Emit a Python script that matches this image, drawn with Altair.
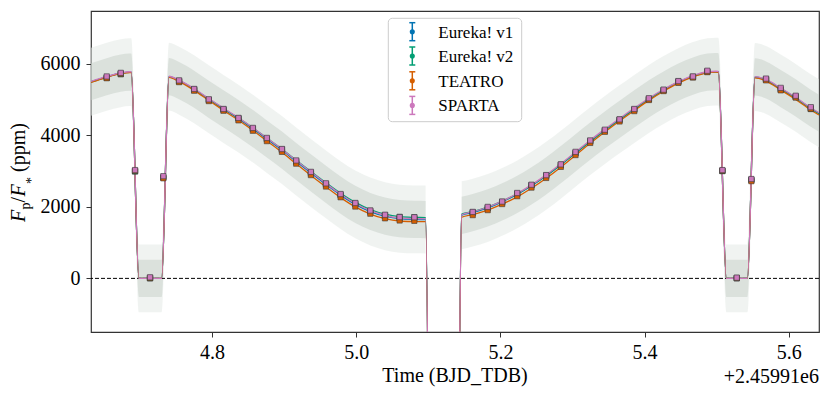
import altair as alt
import pandas as pd

FONT = "Liberation Serif, Times New Roman, Times, serif"

series_names = ["Eureka! v1", "Eureka! v2", "TEATRO", "SPARTA"]
series_colors = ["#0173B2", "#029E73", "#D55E00", "#CC78BC"]

x_domain = [4.632, 5.642]
y_domain = [-1500, 7480]
x_ticks = [4.8, 5.0, 5.2, 5.4, 5.6]
y_ticks = [0, 2000, 4000, 6000]

# ---- model curves (time, flux in ppm) ----
model_t = [4.632, 4.6538, 4.6733, 4.6860, 4.6878, 4.6985, 4.7300, 4.7402, 4.7542, 4.7751,
           4.7955, 4.8158, 4.8366, 4.8566, 4.8760, 4.8969, 4.9167, 4.9371, 4.9580, 4.9783,
           4.9987, 5.0195, 5.0399, 5.0602, 5.0806, 5.0962, 5.1072, 5.1353, 5.1463, 5.1616,
           5.1824, 5.2024, 5.2233, 5.2431, 5.2635, 5.2838, 5.3042, 5.3246, 5.3449, 5.3653,
           5.3857, 5.4060, 5.4264, 5.4469, 5.4671, 5.4871, 5.4990, 5.5024, 5.5135, 5.5427,
           5.5532, 5.5685, 5.5889, 5.6097, 5.6306, 5.6420]
model_eureka_v1 = [5500, 5640, 5740, 5770, 5770, 0, 0, 5645, 5530, 5290,
                   5010, 4740, 4470, 4190, 3900, 3590, 3270, 2950, 2630, 2330,
                   2070, 1870, 1740, 1670, 1650, 1645, -19000, -19000, 1765, 1840,
                   1970, 2140, 2350, 2590, 2870, 3180, 3510, 3840, 4150, 4450,
                   4740, 5020, 5270, 5490, 5660, 5770, 5785, 5780, 0, 0,
                   5635, 5550, 5310, 5050, 4760, 4620]
model_eureka_v2 = [5490, 5630, 5735, 5765, 5765, 0, 0, 5640, 5525, 5290,
                   5015, 4750, 4485, 4210, 3925, 3620, 3305, 2990, 2675, 2380,
                   2125, 1925, 1795, 1725, 1705, 1700, -19000, -19000, 1800, 1870,
                   1995, 2160, 2365, 2600, 2875, 3180, 3505, 3830, 4140, 4440,
                   4730, 5010, 5260, 5480, 5650, 5760, 5775, 5770, 0, 0,
                   5625, 5540, 5295, 5035, 4745, 4605]
model_teatro = [5480, 5625, 5725, 5760, 5760, 0, 0, 5625, 5505, 5260,
                4975, 4700, 4425, 4140, 3845, 3530, 3205, 2880, 2560, 2260,
                2000, 1800, 1670, 1605, 1590, 1585, -19000, -19000, 1710, 1785,
                1910, 2075, 2280, 2520, 2800, 3110, 3445, 3780, 4095, 4400,
                4695, 4980, 5235, 5460, 5635, 5750, 5770, 5765, 0, 0,
                5610, 5520, 5270, 5005, 4710, 4570]
model_sparta = [5510, 5650, 5750, 5780, 5780, 0, 0, 5655, 5545, 5310,
                5030, 4765, 4495, 4215, 3925, 3615, 3295, 2975, 2655, 2355,
                2095, 1895, 1765, 1690, 1670, 1665, -19000, -19000, 1780, 1860,
                1990, 2160, 2375, 2615, 2895, 3205, 3535, 3865, 4175, 4475,
                4765, 5040, 5290, 5505, 5675, 5780, 5795, 5790, 0, 0,
                5645, 5565, 5325, 5065, 4775, 4635]

# ---- binned data points ----
bin_t = [4.6538, 4.6733, 4.6931, 4.7139, 4.7324, 4.7542, 4.7751, 4.7955, 4.8158, 4.8366,
         4.8566, 4.8760, 4.8969, 4.9167, 4.9371, 4.9580, 4.9783, 4.9987, 5.0195, 5.0399,
         5.0602, 5.0806, 5.1616, 5.1824, 5.2024, 5.2233, 5.2431, 5.2635, 5.2838, 5.3042,
         5.3246, 5.3449, 5.3653, 5.3857, 5.4060, 5.4264, 5.4469, 5.4671, 5.4871, 5.5080,
         5.5279, 5.5482, 5.5685, 5.5889, 5.6097, 5.6306]
bin_eureka_v1 = [5620, 5730, 3000, 10, 2830, 5520, 5280, 4990, 4720, 4470,
                 4180, 3890, 3590, 3250, 2930, 2620, 2320, 2070, 1860, 1740,
                 1680, 1670, 1830, 1960, 2120, 2360, 2600, 2860, 3180, 3510,
                 3840, 4140, 4440, 4720, 5020, 5270, 5510, 5640, 5790, 3010,
                 10, 2760, 5570, 5290, 5090, 4760]
bin_eureka_v2 = [5610, 5710, 2990, 0, 2820, 5510, 5290, 4990, 4730, 4480,
                 4190, 3910, 3610, 3280, 2960, 2640, 2340, 2100, 1890, 1770,
                 1720, 1710, 1850, 1980, 2140, 2370, 2610, 2880, 3170, 3500,
                 3830, 4130, 4430, 4720, 5010, 5260, 5490, 5630, 5780, 3000,
                 0, 2750, 5560, 5280, 5070, 4740]
bin_teatro = [5600, 5720, 3010, 10, 2800, 5490, 5250, 4960, 4690, 4420,
              4130, 3840, 3540, 3210, 2890, 2570, 2270, 2010, 1810, 1680,
              1620, 1610, 1770, 1910, 2080, 2300, 2540, 2810, 3120, 3450,
              3790, 4100, 4390, 4680, 4990, 5240, 5470, 5620, 5770, 3010,
              10, 2720, 5540, 5260, 5060, 4740]
bin_sparta = [5650, 5750, 3030, 30, 2860, 5540, 5300, 5010, 4740, 4490,
              4210, 3930, 3620, 3300, 2980, 2660, 2360, 2110, 1900, 1780,
              1715, 1710, 1860, 2000, 2150, 2390, 2620, 2890, 3190, 3540,
              3860, 4160, 4450, 4740, 5040, 5280, 5520, 5650, 5810, 3030,
              20, 2780, 5590, 5330, 5110, 4790]

# ---- envelope of the unbinned scatter (two segments, gap at transit) ----
band_a_t = [4.632, 4.6538, 4.6733, 4.6860, 4.6878, 4.6985, 4.7300, 4.7402, 4.7542, 4.7751,
            4.7955, 4.8158, 4.8366, 4.8566, 4.8760, 4.8969, 4.9167, 4.9371, 4.9580, 4.9783,
            4.9987, 5.0195, 5.0399, 5.0602, 5.0806, 5.0962]
band_a_in_hi = [6020, 6160, 6260, 6290, 6290, 520, 520, 6165, 6050, 5810,
                5530, 5260, 4990, 4710, 4420, 4110, 3790, 3470, 3150, 2850,
                2590, 2390, 2260, 2190, 2170, 2165]
band_a_in_lo = [4980, 5120, 5220, 5250, 5250, -520, -520, 5125, 5010, 4770,
                4490, 4220, 3950, 3670, 3380, 3070, 2750, 2430, 2110, 1810,
                1550, 1350, 1220, 1150, 1130, 1125]
band_a_out_hi = [6450, 6590, 6690, 6720, 6720, 950, 950, 6595, 6480, 6240,
                 5960, 5690, 5420, 5140, 4850, 4540, 4220, 3900, 3580, 3280,
                 3020, 2820, 2690, 2620, 2600, 2595]
band_a_out_lo = [4550, 4690, 4790, 4820, 4820, -950, -950, 4695, 4580, 4340,
                 4060, 3790, 3520, 3240, 2950, 2640, 2320, 2000, 1680, 1380,
                 1120, 920, 790, 720, 700, 695]
band_b_t = [5.1463, 5.1616, 5.1824, 5.2024, 5.2233, 5.2431, 5.2635, 5.2838, 5.3042, 5.3246,
            5.3449, 5.3653, 5.3857, 5.4060, 5.4264, 5.4469, 5.4671, 5.4871, 5.4990, 5.5024,
            5.5135, 5.5427, 5.5532, 5.5685, 5.5889, 5.6097, 5.6306, 5.6420]
band_b_in_hi = [2285, 2360, 2490, 2660, 2870, 3110, 3390, 3700, 4030, 4360,
                4670, 4970, 5260, 5540, 5790, 6010, 6180, 6290, 6305, 6300,
                520, 520, 6155, 6070, 5830, 5570, 5280, 5140]
band_b_in_lo = [1245, 1320, 1450, 1620, 1830, 2070, 2350, 2660, 2990, 3320,
                3630, 3930, 4220, 4500, 4750, 4970, 5140, 5250, 5265, 5260,
                -520, -520, 5115, 5030, 4790, 4530, 4240, 4100]
band_b_out_hi = [2715, 2790, 2920, 3090, 3300, 3540, 3820, 4130, 4460, 4790,
                 5100, 5400, 5690, 5970, 6220, 6440, 6610, 6720, 6735, 6730,
                 950, 950, 6585, 6500, 6260, 6000, 5710, 5570]
band_b_out_lo = [815, 890, 1020, 1190, 1400, 1640, 1920, 2230, 2560, 2890,
                 3200, 3500, 3790, 4070, 4320, 4540, 4710, 4820, 4835, 4830,
                 -950, -950, 4685, 4600, 4360, 4100, 3810, 3670]

# ---------------- data tables ----------------
model_vals = [model_eureka_v1, model_eureka_v2, model_teatro, model_sparta]
bin_vals = [bin_eureka_v1, bin_eureka_v2, bin_teatro, bin_sparta]

band_rows = []
for seg, ts, ilo, ihi, olo, ohi in [
    ("a", band_a_t, band_a_in_lo, band_a_in_hi, band_a_out_lo, band_a_out_hi),
    ("b", band_b_t, band_b_in_lo, band_b_in_hi, band_b_out_lo, band_b_out_hi),
]:
    for i, t in enumerate(ts):
        band_rows.append({"seg": seg, "t": t, "ilo": ilo[i], "ihi": ihi[i],
                          "olo": olo[i], "ohi": ohi[i]})
band_df = pd.DataFrame(band_rows)

xscale = alt.Scale(domain=x_domain, nice=False, zero=False)
yscale = alt.Scale(domain=y_domain, nice=False, zero=False)
xaxis = alt.Axis(values=x_ticks, format=".1f", title=None, grid=False, domain=False,
                 tickSize=5, tickColor="#333333", tickWidth=1, labelPadding=5,
                 labelFont=FONT, labelFontSize=20, labelColor="black",
                 labelOverlap=False, labelFlush=False)
yaxis = alt.Axis(values=y_ticks, format="d", title=None, grid=False, domain=False,
                 tickSize=5, tickColor="#333333", tickWidth=1, labelPadding=6,
                 labelFont=FONT, labelFontSize=20, labelColor="black",
                 labelOverlap=False, labelFlush=False)


def X(field="t"):
    return alt.X(f"{field}:Q", scale=xscale, axis=xaxis)


def Y(field):
    return alt.Y(f"{field}:Q", scale=yscale, axis=yaxis)


layers = []

# scatter envelope
layers.append(
    alt.Chart(band_df).mark_area(interpolate="monotone", color="#e3e9e5", opacity=0.55, clip=True)
    .encode(x=X(), y=Y("olo"), y2="ohi", detail="seg:N")
)
layers.append(
    alt.Chart(band_df).mark_area(interpolate="monotone", color="#c6cfc8", opacity=0.5, clip=True)
    .encode(x=X(), y=Y("ilo"), y2="ihi", detail="seg:N")
)

# zero line
zero_df = pd.DataFrame({"z": [0]})
layers.append(
    alt.Chart(zero_df).mark_rule(color="black", strokeDash=[4, 2], strokeWidth=1)
    .encode(y=Y("z"))
)

# model lines
for name, color, vals in zip(series_names, series_colors, model_vals):
    df = pd.DataFrame({"t": model_t, "f": vals})
    layers.append(
        alt.Chart(df).mark_line(interpolate="monotone", color=color, strokeWidth=1.3, clip=True)
        .encode(x=X(), y=Y("f"))
    )

# binned points
for name, color, vals in zip(series_names, series_colors, bin_vals):
    df = pd.DataFrame({"t": bin_t, "f": vals})
    layers.append(
        alt.Chart(df).mark_point(shape="square", filled=True, size=28, fill=color,
                                 stroke="#3a3a3a", strokeWidth=0.6, opacity=1, clip=True)
        .encode(x=X(), y=Y("f"))
    )

one = pd.DataFrame({"a": [0]})

# legend box
layers.append(
    alt.Chart(one).mark_rect(fill="white", fillOpacity=0.85, stroke="#cccccc", strokeWidth=1,
                             cornerRadius=4)
    .encode(x=alt.value(297.3), x2=alt.value(430.7), y=alt.value(7.3), y2=alt.value(110.7))
)
legend_rows_y = [20.7, 45.0, 69.8, 94.4]
lx = 321.3
for name, color, ly in zip(series_names, series_colors, legend_rows_y):
    layers.append(alt.Chart(one).mark_rule(color=color, strokeWidth=1.5)
                  .encode(x=alt.value(lx), y=alt.value(ly - 9), y2=alt.value(ly + 9)))
    layers.append(alt.Chart(one).mark_rule(color=color, strokeWidth=1.5)
                  .encode(x=alt.value(lx - 3), x2=alt.value(lx + 3), y=alt.value(ly - 9)))
    layers.append(alt.Chart(one).mark_rule(color=color, strokeWidth=1.5)
                  .encode(x=alt.value(lx - 3), x2=alt.value(lx + 3), y=alt.value(ly + 9)))
    layers.append(alt.Chart(one).mark_point(shape="circle", filled=True, size=26, color=color,
                                            opacity=1)
                  .encode(x=alt.value(lx), y=alt.value(ly)))
    layers.append(alt.Chart(one).mark_text(text=name, font=FONT, fontSize=17, color="black",
                                           align="left", baseline="middle")
                  .encode(x=alt.value(347.3), y=alt.value(ly + 1)))

# x-axis title and offset text
layers.append(alt.Chart(one).mark_text(text="Time (BJD_TDB)", font=FONT, fontSize=20,
                                       color="black", align="center", baseline="alphabetic")
              .encode(x=alt.value(364), y=alt.value(370.5)))
layers.append(alt.Chart(one).mark_text(text="+2.45991e6", font=FONT, fontSize=20,
                                       color="black", align="right", baseline="alphabetic")
              .encode(x=alt.value(728), y=alt.value(371.5)))

# y-axis title built from pieces: F_p / F_* (ppm)
ytitle_pieces = [
    ("F", 20, "italic", -66, 211.0),
    ("p", 14, "normal", -61, 198.5),
    ("/", 20, "normal", -66, 191.5),
    ("F", 20, "italic", -66, 185.5),
    ("*", 14, "normal", -55, 173.0),
    ("(ppm)", 20, "normal", -66, 161.0),
]
for txt, fs, style, px, py in ytitle_pieces:
    layers.append(alt.Chart(one).mark_text(text=txt, font=FONT, fontSize=fs, fontStyle=style,
                                           color="black", align="left", baseline="alphabetic",
                                           angle=270)
                  .encode(x=alt.value(px), y=alt.value(py)))

chart = alt.layer(*layers).properties(
    width=728, height=321,
    autosize=alt.AutoSizeParams(type="none"),
    padding={"left": 83, "top": 3, "right": 3, "bottom": 55},
).configure_view(stroke="#333333", strokeWidth=1.2)

chart.save("out.html", embed_options={"renderer": "svg", "actions": False})
